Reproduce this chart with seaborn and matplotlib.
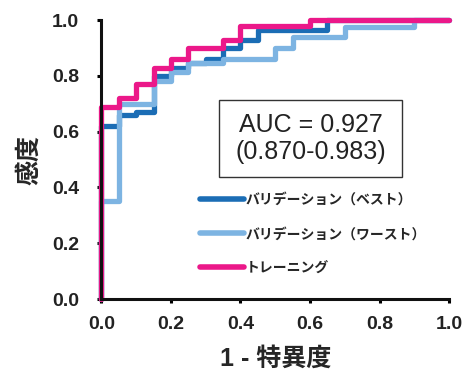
import matplotlib
matplotlib.use('Agg')
import matplotlib.pyplot as plt
from matplotlib.patches import Rectangle
import seaborn as sns
import pandas as pd

# step points (1 - specificity, sensitivity)
best_fpr = [0, 0, 0.05, 0.10, 0.15, 0.20, 0.25, 0.30, 0.35, 0.40, 0.45, 0.65, 1.0]
best_tpr = [0, 0.62, 0.66, 0.67, 0.80, 0.83, 0.845, 0.86, 0.90, 0.93, 0.965, 1.0, 1.0]

worst_fpr = [0, 0, 0.05, 0.15, 0.20, 0.25, 0.35, 0.50, 0.55, 0.70, 0.90, 1.0]
worst_tpr = [0, 0.35, 0.70, 0.78, 0.815, 0.845, 0.862, 0.90, 0.94, 0.976, 1.0, 1.0]

train_fpr = [0, 0, 0.05, 0.10, 0.15, 0.20, 0.25, 0.35, 0.40, 0.60, 1.0]
train_tpr = [0, 0.69, 0.72, 0.77, 0.83, 0.86, 0.90, 0.93, 0.98, 1.0, 1.0]

labels = ['バリデーション（ベスト）', 'バリデーション（ワースト）', 'トレーニング']
colors = ['#1b6db5', '#7db4e2', '#eb1889']
auc_text = 'AUC = 0.927\n(0.870-0.983)'
ticks = [0, 0.2, 0.4, 0.6, 0.8, 1.0]
tick_labels = ['0.0', '0.2', '0.4', '0.6', '0.8', '1.0']

sns.set_style('ticks')
plt.rcParams['font.family'] = ['Liberation Sans', 'Noto Sans CJK JP']

df = pd.concat([
    pd.DataFrame({'fpr': best_fpr, 'tpr': best_tpr, 'curve': labels[0]}),
    pd.DataFrame({'fpr': worst_fpr, 'tpr': worst_tpr, 'curve': labels[1]}),
    pd.DataFrame({'fpr': train_fpr, 'tpr': train_tpr, 'curve': labels[2]}),
])

fig = plt.figure(figsize=(4.63, 3.72), dpi=100)
ax = fig.add_axes([0.219, 0.196, 0.751, 0.75])

for lab, col in zip(labels, colors):
    d = df[df['curve'] == lab]
    sns.lineplot(data=d, x='fpr', y='tpr', ax=ax, color=col, lw=3.8,
                 drawstyle='steps-post', sort=False, estimator=None,
                 label=lab, clip_on=False)

ax.set_xlim(0, 1)
ax.set_ylim(0, 1)
ax.set_xticks(ticks)
ax.set_yticks(ticks)
ax.set_xticklabels(tick_labels)
ax.set_yticklabels(tick_labels)
ax.tick_params(direction='out', length=3, width=2.2, labelsize=14,
               colors='black', labelcolor='#222222')
ax.tick_params(axis='y', pad=13)
ax.tick_params(axis='x', pad=9)
for t in ax.get_xticklabels() + ax.get_yticklabels():
    t.set_fontweight('bold')
for s in ['left', 'bottom']:
    ax.spines[s].set_linewidth(2.2)
    ax.spines[s].set_color('#111111')
sns.despine(ax=ax)

ax.set_xlabel('1 - 特異度', fontsize=18, fontweight='bold')
ax.set_ylabel('感度', fontsize=18, fontweight='bold')
ax.xaxis.set_label_coords(0.5, -0.17)
ax.yaxis.set_label_coords(-0.172, 0.5)

# AUC box
ax.add_patch(Rectangle((0.338, 0.437), 0.527, 0.276, transform=ax.transAxes,
                       fc='white', ec='#333333', lw=1, zorder=5))
ax.text(0.6015, 0.575, auc_text, transform=ax.transAxes, ha='center', va='center',
        fontsize=18, color='#222222', linespacing=1.15, zorder=6)

leg = ax.legend(loc='upper left', bbox_to_anchor=(0.285, 0.38), frameon=False,
                fontsize=10, handlelength=3.1, handletextpad=0.15,
                labelspacing=1.45, borderpad=0, borderaxespad=0)
for h in leg.get_lines():
    h.set_solid_capstyle('round')
    h.set_linewidth(4)
for t in leg.get_texts():
    t.set_fontweight('bold')

fig.savefig('out.png', dpi=100)
